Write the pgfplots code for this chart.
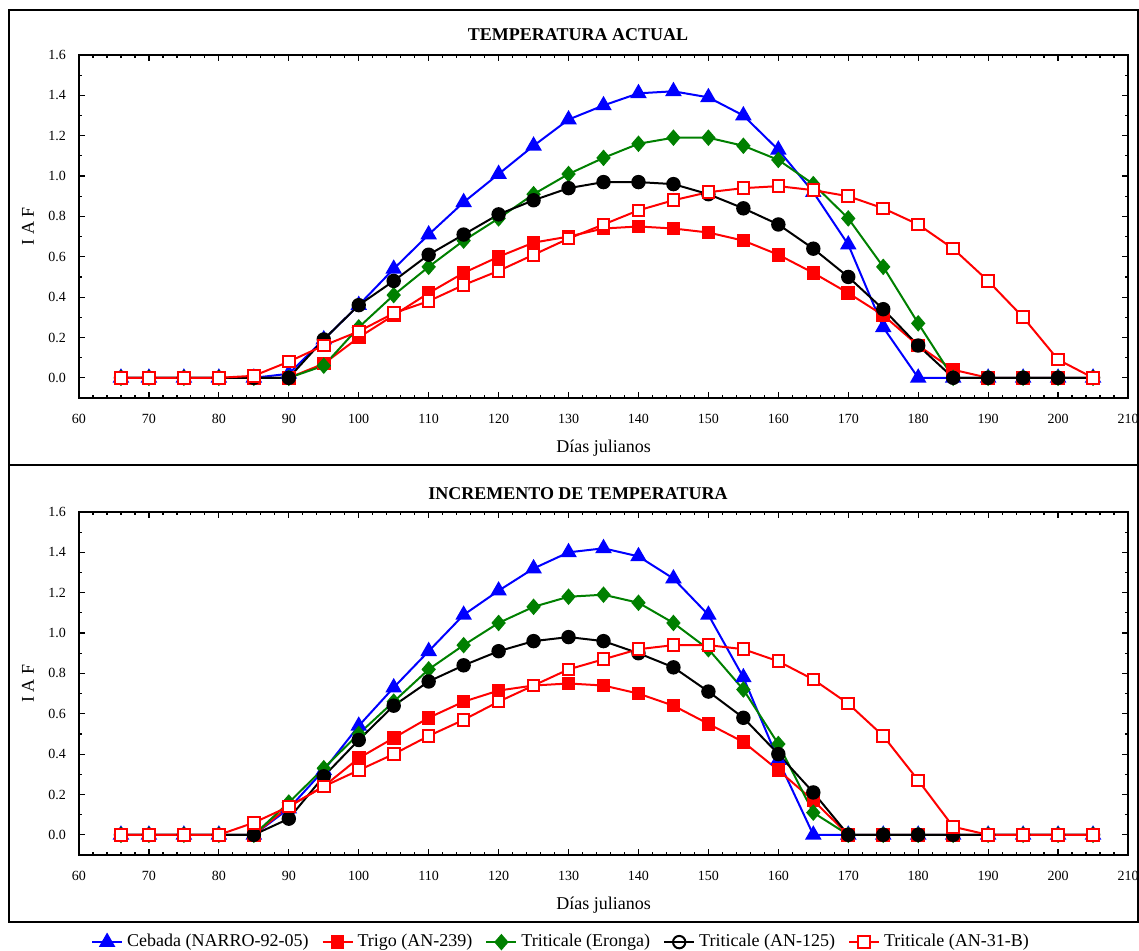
\documentclass[border=0pt]{standalone}
\usepackage{fontspec}
\setmainfont{Liberation Serif}
\usepackage{pgfplots}
\usepackage{pgfplotstable}
\pgfplotsset{compat=1.18}

\definecolor{cgreen}{RGB}{0,128,0}

% columns: dia, cebada, trigo, eronga, an125, an31b
\pgfplotstableread{
dia ceb tri ero a125 a31
66  0    0    0    0    0
70  0    0    0    0    0
75  0    0    0    0    0
80  0    0    0    0    0
85  0    0    0    0    0.01
90  0.02 0    0    0    0.08
95  0.19 0.07 0.06 0.19 0.16
100 0.36 0.20 0.25 0.36 0.23
105 0.54 0.31 0.41 0.48 0.32
110 0.71 0.42 0.55 0.61 0.38
115 0.87 0.52 0.68 0.71 0.46
120 1.01 0.60 0.79 0.81 0.53
125 1.15 0.67 0.91 0.88 0.61
130 1.28 0.70 1.01 0.94 0.69
135 1.35 0.74 1.09 0.97 0.76
140 1.41 0.75 1.16 0.97 0.83
145 1.42 0.74 1.19 0.96 0.88
150 1.39 0.72 1.19 0.91 0.92
155 1.30 0.68 1.15 0.84 0.94
160 1.13 0.61 1.08 0.76 0.95
165 0.92 0.52 0.96 0.64 0.93
170 0.66 0.42 0.79 0.50 0.90
175 0.25 0.31 0.55 0.34 0.84
180 0    0.16 0.27 0.16 0.76
185 0    0.04 0    0    0.64
190 0    0    0    0    0.48
195 0    0    0    0    0.30
200 0    0    0    0    0.09
205 0    0    0    0    0
}\actual

\pgfplotstableread{
dia ceb tri ero a125 a31
66  0    0    0    0    0
70  0    0    0    0    0
75  0    0    0    0    0
80  0    0    0    0    0
85  0    0    0    0    0.06
90  0.13 0.14 0.16 0.08 0.14
95  0.32 0.24 0.33 0.29 0.24
100 0.54 0.38 0.50 0.47 0.32
105 0.73 0.48 0.66 0.64 0.40
110 0.91 0.58 0.82 0.76 0.49
115 1.09 0.66 0.94 0.84 0.57
120 1.21 0.715 1.05 0.91 0.66
125 1.32 0.74 1.13 0.96 0.74
130 1.40 0.75 1.18 0.98 0.82
135 1.42 0.74 1.19 0.96 0.87
140 1.38 0.70 1.15 0.90 0.92
145 1.27 0.64 1.05 0.83 0.94
150 1.09 0.55 0.92 0.71 0.94
155 0.78 0.46 0.72 0.58 0.92
160 0.37 0.32 0.45 0.40 0.86
165 0    0.17 0.11 0.21 0.77
170 0    0    0    0    0.65
175 0    0    0    0    0.49
180 0    0    0    0    0.27
185 0    0    0    0    0.04
190 0    0    0    0    0
195 0    0    0    0    0
200 0    0    0    0    0
205 0    0    0    0    0
}\incremento

\pgfplotsset{
  iaf/.style={
    scale only axis, width=524.5pt, height=171.5pt,
    xmin=60, xmax=210, ymin=-0.1, ymax=1.6,
    xtick={60,70,...,210}, minor x tick num=4,
    ytick={0,0.2,...,1.6}, minor y tick num=1,
    tick align=inside, major tick length=3pt, minor tick length=1.6pt,
    tick style={black, line width=0.6pt},
    axis line style={line width=0.8pt},
    ticklabel style={font=\fontsize{7}{8}\selectfont},
    /pgf/number format/assume math mode=true,
    yticklabel style={/pgf/number format/.cd, fixed, fixed zerofill, precision=1, /tikz/.cd, xshift=-3pt},
    xticklabel style={yshift=-4.5pt},
    xlabel={Días julianos}, ylabel={I A F},
    label style={font=\fontsize{9}{11}\selectfont},
    xlabel style={at={(axis description cs:0.5,-0.146)}, anchor=center},
    ylabel style={at={(axis description cs:-0.0486,0.5)}, anchor=center},
    every axis plot/.append style={line width=1pt, mark options={solid}},
  },
  ceb/.style={blue, mark=triangle*, mark size=3.8pt},
  tri/.style={red, mark=square*, mark size=2.9pt},
  ero/.style={cgreen, mark=diamond*, mark size=3.4pt, mark options={xscale=1.15}},
  a125/.style={black, mark=*, mark size=3.1pt},
  a31/.style={red, mark=square*, mark size=2.9pt, mark options={fill=white}},
}

\begin{document}
\begin{tikzpicture}
  \useasboundingbox (0,0) rectangle (569.5pt,475.5pt);
  \draw[line width=1pt] (4.5pt,243pt) rectangle (569pt,470.5pt);
  \draw[line width=1pt] (4.5pt,14.5pt) rectangle (569pt,243pt);
  \node[font=\bfseries\fontsize{9}{11}\selectfont] at (289pt,458pt) {TEMPERATURA ACTUAL};
  \node[font=\bfseries\fontsize{9}{11}\selectfont] at (289pt,228.5pt) {INCREMENTO DE TEMPERATURA};

  % ---- panel superior
  \begin{axis}[iaf, at={(39.5pt,276.5pt)}, anchor=south west]
    \addplot[ceb] table[x=dia, y=ceb] {\actual};
    \addplot[tri] table[x=dia, y=tri] {\actual};
    \addplot[ero] table[x=dia, y=ero] {\actual};
    \addplot[a125] table[x=dia, y=a125] {\actual};
    \addplot[a31] table[x=dia, y=a31] {\actual};
  \end{axis}

  % ---- panel inferior, con la leyenda
  \begin{axis}[iaf, at={(39.5pt,48pt)}, anchor=south west,
      legend columns=-1,
      legend style={at={(0.4604,-0.254)}, anchor=center, draw=none, fill=none,
        font=\fontsize{9}{11}\selectfont, inner sep=0pt,
        /tikz/every even column/.append style={column sep=4.5pt}},
      legend image code/.code={%
        \draw[mark repeat=2,mark phase=2] plot coordinates {(0pt,0pt) (7.5pt,0pt) (15pt,0pt)};}]
    \addplot[ceb] table[x=dia, y=ceb] {\incremento};
    \addlegendentry{Cebada (NARRO-92-05)}
    \addplot[tri] table[x=dia, y=tri] {\incremento};
    \addlegendentry{Trigo (AN-239)}
    \addplot[ero] table[x=dia, y=ero] {\incremento};
    \addlegendentry{Triticale (Eronga)}
    \addplot[a125, legend image post style={mark=o}] table[x=dia, y=a125] {\incremento};
    \addlegendentry{Triticale (AN-125)}
    \addplot[a31] table[x=dia, y=a31] {\incremento};
    \addlegendentry{Triticale (AN-31-B)}
  \end{axis}
\end{tikzpicture}
\end{document}
